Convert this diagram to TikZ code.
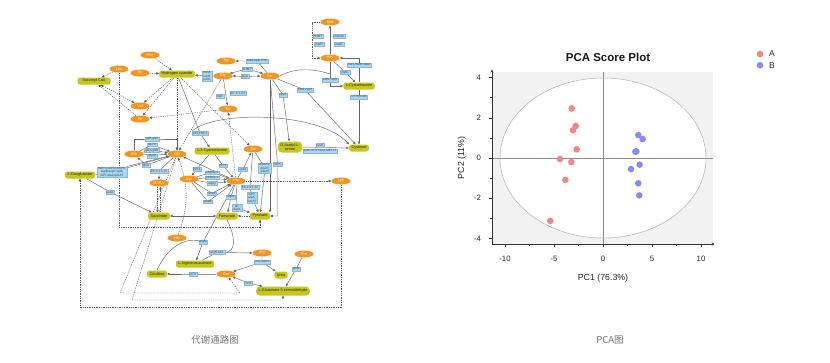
\documentclass[tikz,border=0pt]{standalone}
\usepackage{fontspec}
\setmainfont{Liberation Sans}
\newfontfamily\cjkfont{Noto Sans CJK SC}
\usetikzlibrary{arrows.meta, positioning, calc, shapes.geometric}
\pgfdeclarelayer{bg}
\pgfsetlayers{bg,main}
\definecolor{aaorange}{HTML}{F7941D}
\definecolor{cpdgreen}{HTML}{C6C61E}
\definecolor{enzblue}{HTML}{A6D7F7}
\definecolor{grpA}{HTML}{F28585}
\definecolor{grpB}{HTML}{8A8AF2}
\definecolor{panelgrey}{HTML}{F2F2F2}
\tikzset{
  aanode/.style={ellipse, fill=aaorange, text=white, font=\fontsize{3.8}{4}\selectfont,
    inner sep=0pt, minimum width=19pt, minimum height=7pt},
  cpdnode/.style={rectangle, rounded corners=2.5pt, fill=cpdgreen, text=black!85,
    font=\fontsize{3.8}{4.2}\selectfont, inner xsep=2.5pt, inner ysep=0pt, minimum height=7pt, align=center},
  enznode/.style={rectangle, fill=enzblue, draw=enzblue!85!black, line width=0.1pt, text=black!75,
    font=\fontsize{3.1}{3.5}\selectfont, inner xsep=1pt, inner ysep=0.6pt, align=center},
  rxnline/.style={draw=black!60, line width=0.45pt},
  rxnarrow/.style={rxnline, -{Triangle[length=2.6pt,width=2.4pt]}},
  rxnboth/.style={rxnline, {Triangle[length=2.6pt,width=2.4pt]}-{Triangle[length=2.6pt,width=2.4pt]}},
  dashline/.style={draw=black!65, line width=0.4pt, dash pattern=on 1.3pt off 1pt},
  dasharrow/.style={dashline, -{Triangle[length=2.6pt,width=2.4pt]}},
  dashboth/.style={dashline, {Triangle[length=2.6pt,width=2.4pt]}-{Triangle[length=2.6pt,width=2.4pt]}},
  scoreA/.style={circle, fill=grpA, minimum size=6.6pt, inner sep=0pt},
  scoreB/.style={circle, fill=grpB, minimum size=6.6pt, inner sep=0pt},
  ticklabel/.style={font=\fontsize{7.8}{8}\selectfont, text=black!85},
  axistitle/.style={font=\fontsize{8.8}{10}\selectfont, text=black!85},
  captiontext/.style={font=\cjkfont\fontsize{9.5}{11}\selectfont, text=black!55},
}

\begin{document}
\begin{tikzpicture}[x=1pt, y=-1pt]
  \useasboundingbox (0,0) rectangle (830,362);

  % amino acids
  \node[aanode] (phe) at (150,55) {Phe};
  \node[aanode] (leu) at (119,69) {Leu};
  \node[aanode] (tyr) at (140,73) {Tyr};
  \node[aanode] (val) at (140,106) {Val};
  \node[aanode] (ile) at (140,119) {Ile};
  \node[aanode] (trp) at (226,61) {Trp};
  \node[aanode] (gly) at (223,76) {Gly};
  \node[aanode] (ser) at (270,76) {Ser};
  \node[aanode] (thr) at (228,109) {Thr};
  \node[aanode] (met) at (330,22) {Met};
  \node[aanode] (hcy) at (330,58) {Hcy};
  \node[aanode] (gln) at (134,154) {Gln};
  \node[aanode] (glu) at (177,154) {Glu};
  \node[aanode] (ala) at (253,149) {Ala};
  \node[aanode] (gaba) at (159,183) {GABA};
  \node[aanode] (asn) at (189,179) {Asn};
  \node[aanode] (asp) at (236,181) {Asp};
  \node[aanode] (lys) at (341,181) {Lys};
  \node[aanode] (his) at (177,238) {His};
  \node[aanode] (arg) at (262,253) {Arg};
  \node[aanode] (orn) at (226,274) {Orn};
  \node[aanode] (pro) at (304,254) {Pro};

  % compounds
  \node[cpdnode, minimum width=33pt] (succoa) at (94,81) {Succinyl-CoA};
  \node[cpdnode] (hcn) at (177,74) {Hydrogen cyanide};
  \node[cpdnode] (cyala) at (212,151) {L-3-Cyanoalanine};
  \node[cpdnode] (cysta) at (359,86) {L-Cystathionine};
  \node[cpdnode, rounded corners=4pt, minimum height=11pt] (oas) at (290,147) {O-Acetyl-L-\\serine};
  \node[cpdnode] (cys) at (359,148) {Cysteine};
  \node[cpdnode] (oxo) at (80,175) {2-Oxoglutarate};
  \node[cpdnode] (succ) at (159,216) {Succinate};
  \node[cpdnode] (fum) at (227,216) {Fumarate};
  \node[cpdnode] (pyr) at (260,216) {Pyruvate};
  \node[cpdnode] (argsuc) at (195,264) {L-Argininosuccinate};
  \node[cpdnode] (citr) at (157,274) {Citrulline};
  \node[cpdnode] (urea) at (281,275) {Urea};
  \node[cpdnode, rounded corners=4pt, minimum height=9pt] (g5s) at (283,291) {L-Glutamate 5-semialdehyde};

  % enzymes
  \node[enznode] (e_hcn) at (207,76) {hcnA\\hcnB\\hcnC};
  \node[enznode] (e_trp) at (257,61) {tnaA,trpB,TRP};
  \node[enznode] (e_shmt) at (247,69) {SHMT};
  \node[enznode] (e_glya) at (245,76.5) {glyA};
  \node[enznode] (e_lta) at (220,96) {ltaE};
  \node[enznode] (e_ec) at (238,93) {EC 4.1.2.5};
  \node[enznode] (e_bhmt) at (318,36) {BHMT};
  \node[enznode] (e_mmum) at (339,36) {mmuM};
  \node[enznode] (e_meth) at (319,44) {metH};
  \node[enznode] (e_mete) at (339,44) {metE};
  \node[enznode] (e_cgs) at (359,65) {CGS,metB,metZ};
  \node[enznode] (e_metc) at (345,72) {metC};
  \node[enznode] (e_cbs) at (330,80) {CBS,cysO};
  \node[enznode] (e_cth) at (359,97) {CTH,mccB};
  \node[enznode] (e_cyse) at (283,95) {cysE};
  \node[enznode] (e_cbs2) at (305,90) {CBS,cysO};
  \node[enznode] (e_cysk1) at (320,145.5) {cysK};
  \node[enznode] (e_cysk2) at (320,150.8) {cysK,ATCYSC1,MET17};
  \node[enznode] (e_atcys) at (200,133) {ATCYSC1};
  \node[enznode] (e_glt1) at (152,139) {gltB,gltD};
  \node[enznode] (e_glt2) at (152,144.7) {GLT1};
  \node[enznode] (e_glt3) at (152,150.3) {glsA,glsB};
  \node[enznode] (e_glt4) at (152,155.8) {aspQ};
  \node[enznode] (e_glna) at (146,165.3) {glnA};
  \node[enznode] (e_got) at (112,172) {GOT1,GOT2,ASP5,\\aspB,aspC,tyrB,\\GPT,alaA,GGAT};
  \node[enznode] (e_gad) at (159,171) {EC 4.1.1.15};
  \node[enznode] (e_suca) at (110,192) {sucA};
  \node[enznode] (e_nit1) at (197,169) {NIT4};
  \node[enznode] (e_nit2) at (223,165.5) {NIT4};
  \node[enznode] (e_asr1) at (212,172.3) {ASRGL1};
  \node[enznode] (e_asr2) at (212,177.7) {ASRGL1};
  \node[enznode] (e_aspq) at (212,183.3) {aspQ};
  \node[enznode] (e_ansa) at (212,193.3) {ansA};
  \node[enznode] (e_ansb) at (208,201.7) {ansB};
  \node[enznode] (e_aspa) at (231,197) {aspA};
  \node[enznode] (e_asda) at (243,169) {asdA};
  \node[enznode] (e_agxt) at (265,168) {AGXT2,\\AGXT,\\GGAT};
  \node[enznode] (e_sds) at (277.5,164) {SDS};
  \node[enznode] (e_ec26) at (250,187) {EC 2.6.1.12};
  \node[enznode] (e_gpt) at (252,197.5) {GPT,\\alaA,\\GGAT};
  \node[enznode] (e_alr) at (237,208) {alr,\\dadX};
  \node[enznode] (e_argg) at (203,242) {argG};
  \node[enznode] (e_argh) at (217,252.5) {argH,ASL};
  \node[enznode] (e_otc) at (193,274) {OTC};
  \node[enznode] (e_rocf) at (262,262) {rocF,ARG};
  \node[enznode] (e_rocd) at (248,283) {rocD};
  \node[enznode] (e_puta) at (296,269) {putA};

  \coordinate (cbsjoin) at (330,74);
  \coordinate (rectbot) at (0,227);
  \coordinate (dashbot) at (0,307);
  \coordinate (ornA) at (120,293);
  \coordinate (ornB) at (240,293);
  \coordinate (g5sA) at (132,300);

  \begin{pgfonlayer}{bg}
    % solid reactions
    \draw[rxnarrow] (gly) -- (e_hcn.center) -- (hcn);
    \draw[rxnboth] (gly.north east) -- (e_shmt.center) -- (ser.north west);
    \draw[rxnboth] (gly.east) -- (e_glya.center) -- (ser.west);
    \draw[rxnarrow] (ser) -- (e_trp.center) -- (trp);
    \draw[rxnarrow] (gly) -- (thr);
    \draw[rxnarrow] (hcy) -- (met);
    \draw[dasharrow] (met.west) -| ([xshift=-8pt]hcy.west) -- (hcy.west);
    \draw[rxnarrow] (hcy) |- (cysta);
    \draw[rxnarrow] (cysta.north) |- (hcy.east);
    \draw[rxnarrow] (hcy) -- (e_metc.center) -- (cysta);
    \draw[rxnarrow] (cysta) -- (cys);
    \draw[rxnline] (ser.east) .. controls (298,66) and (318,70) .. (cbsjoin);
    \draw[rxnarrow] (ser) -- (e_cyse.center) -- (oas);
    \draw[rxnarrow] (ser) -- (e_cbs2.center) -- (cys);
    \draw[rxnarrow] (oas.east) -- (cys.west);
    \draw[rxnarrow] (e_atcys.north west) .. controls (215,110) and (320,112) .. (cys.north west);
    \draw[rxnarrow] (hcn) -- (e_atcys.center) -- (cyala);
    \draw[rxnarrow] (cyala) -- (e_nit1.center) -- (asn);
    \draw[rxnarrow] (cyala) -- (e_nit2.center) -- (asp);
    \foreach \e in {e_asr1,e_asr2,e_aspq,e_ansa,e_ansb}
      \draw[rxnarrow] (asn) -- (\e.center) -- (asp);
    \draw[rxnarrow] (asp) -- (e_aspa.center) -- (fum);
    \draw[rxnarrow] (asp) -- (e_asda.center) -- (ala);
    \draw[rxnarrow] (ala) -- (e_agxt.center) -- (pyr);
    \draw[rxnarrow] (ala) -- (e_ec26.center) -- (e_gpt.center) -- (pyr);
    \draw[rxnarrow] (asp) -- (e_alr.center) -- (pyr);
    \draw[rxnarrow] (ser) -- (e_sds.center) |- (pyr.east);
    \draw[rxnarrow] (ser.south) -- (ser.south |- pyr.north);
    \draw[rxnarrow] (oxo.east) -- (e_got.center) -- (glu);
    \draw[rxnarrow] (e_got.north east) -- (glu);
    \draw[rxnarrow] (asp) -- (glu);
    \draw[rxnarrow] (gln.north) |- (e_glt1.center) -| (glu.north);
    \draw[rxnarrow] (gln) -- (e_glt2.center) -- (glu);
    \draw[rxnarrow] (gln) -- (e_glt3.center) -- (glu);
    \draw[rxnarrow] (gln.east) -- (e_glt4.center) -- (glu.west);
    \draw[rxnarrow] (glu) -- (e_glna.center) -- (gln);
    \draw[rxnarrow] (glu) -- (e_gad.center) -- (gaba);
    \draw[rxnarrow] (oxo) -- (e_suca.center) -- (succ);
    \draw[rxnboth] (succ) -- (fum);
    \draw[rxnarrow] (asp) -- (e_argg.center) -- (argsuc);
    \draw[rxnline] (citr.north) .. controls (168,245) and (188,236) .. (e_argg.center);
    \draw[rxnline] (fum.south) .. controls (236,238) and (236,252) .. (e_argh.east);
    \draw[rxnarrow] (argsuc) -- (e_argh.center) -- (arg);
    \draw[rxnarrow] (orn) -- (e_otc.center) -- (citr);
    \draw[rxnarrow] (arg) -- (e_rocf.center) -- (orn);
    \draw[rxnarrow] (e_rocf.center) -- (urea);
    \draw[rxnboth] (orn) -- (e_rocd.center) -- (g5s);
    \draw[rxnarrow] (pro) -- (e_puta.center) -- (g5s);

    % dashed links
    \foreach \a/\b in {phe/hcn,tyr/hcn,leu/succoa,ile/succoa,hcn/val,hcn/ile,thr/ile,
                       hcn/glu,hcn/ala,gly/glu,asp/thr,asp/lys,pyr/fum}
      \draw[dasharrow] (\a) -- (\b);
    \draw[dashboth] (val) -- (succoa);
    \draw[dasharrow] ([xshift=-1.5pt]gaba.south) -- ([xshift=-1.5pt]succ.north);
    \draw[dasharrow] ([xshift=1.5pt]succ.north) -- ([xshift=1.5pt]gaba.south);
    \draw[dasharrow] (leu.south) -- (leu.south |- rectbot) -| (pyr.south);
    \draw[dasharrow] (lys.south) -- (lys.south |- dashbot) -| (oxo.south);
    \draw[dasharrow] (glu) -- (ornA) -- (ornB) -- (orn);
    \draw[dasharrow] (glu) -- (g5sA) -| (g5s.south);
    \draw[dasharrow] (his) to[bend right=20] (glu);
  \end{pgfonlayer}

  % PCA score plot
  \begin{scope}[shift={(603,158)}, x=9.8pt, y=20.1pt]
    \fill[panelgrey] (-11.33,-4.28) rectangle (11.22,4.28);
    \fill[white] (0,0) ellipse [x radius=103pt, y radius=80pt];
    \draw[black!45, line width=0.4pt] (0,-4.28) -- (0,4.28);
    \draw[black!45, line width=0.4pt] (-11.33,0) -- (11.22,0);
    \draw[black!30, line width=0.5pt] (0,0) ellipse [x radius=103pt, y radius=80pt];
    \draw[black!80, line width=0.5pt, -{Stealth[length=3pt,width=3pt]}] (-11.33,-4.28) -- (-11.33,4.4);
    \draw[black!80, line width=0.5pt, -{Stealth[length=3pt,width=3pt]}] (-11.33,-4.28) -- (11.4,-4.28);
    \foreach \t [count=\i] in {-10,-5,0,5,10} {
      \draw[black!80, line width=0.5pt] (\t,-4.28) -- ++(0,-3pt);
      \node[ticklabel] (xt\i) at (\t,-5.02) {\t};
    }
    \foreach \t in {-7.5,-2.5,2.5,7.5}
      \draw[black!80, line width=0.5pt] (\t,-4.28) -- ++(0,-1.8pt);
    \foreach \t [count=\i] in {-4,-2,0,2,4} {
      \draw[black!80, line width=0.5pt] (-11.33,\t) -- ++(-3pt,0);
      \node[ticklabel, anchor=east] (yt\i) at (-12.1,\t) {\t};
    }
    \foreach \t in {-3,-1,1,3}
      \draw[black!80, line width=0.5pt] (-11.33,\t) -- ++(-1.8pt,0);
    \foreach \px/\py [count=\i] in {-3.19/2.47,-2.79/1.59,-3.06/1.38,-2.69/0.43,
                                    -4.39/-0.05,-3.23/-0.2,-3.84/-1.09,-5.38/-3.13}
      \node[scoreA] (a\i) at (\px,\py) {};
    \foreach \px/\py [count=\i] in {3.6/1.14,4.05/0.94,3.3/0.31,3.4/0.33,
                                    3.74/-0.33,2.86/-0.55,3.6/-1.26,3.7/-1.86}
      \node[scoreB] (b\i) at (\px,\py) {};
    \node[axistitle] (xtitle) at (0,-5.97) {PC1 (76.3\%)};
    \node[axistitle, rotate=90] (ytitle) at (-14.4,0) {PC2 (11\%)};
  \end{scope}

  \node[font=\bfseries\fontsize{11.5}{13}\selectfont, text=black!90] (title) at (608,57) {PCA Score Plot};
  \node[scoreA] (legA) at (760,54) {};
  \node[scoreB] (legB) at (760,65.3) {};
  \node[ticklabel, font=\fontsize{8.5}{9}\selectfont, right=2pt of legA] (legAtext) {A};
  \node[ticklabel, font=\fontsize{8.5}{9}\selectfont, right=2pt of legB] (legBtext) {B};

  % captions
  \node[captiontext] (cap1) at (215,340) {代谢通路图};
  \node[captiontext] (cap2) at (610,340) {PCA图};
\end{tikzpicture}
\end{document}
